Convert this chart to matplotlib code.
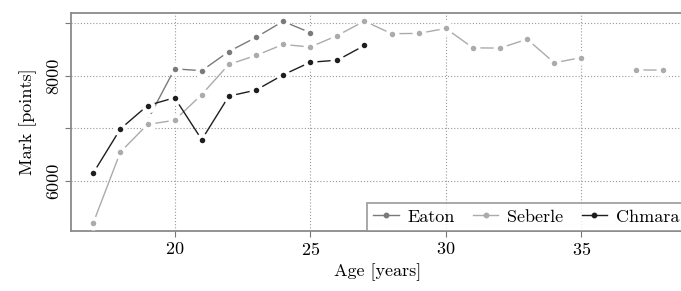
import numpy as np
import matplotlib
matplotlib.use("Agg")
import matplotlib.pyplot as plt

# ages and marks
ages_eaton = [19, 20, 21, 22, 23, 24, 25]
marks_eaton = [7150, 8130, 8095, 8460, 8730, 9035, 8820]

ages_seberle = [17, 18, 19, 20, 21, 22, 23, 24, 25, 26, 27, 28, 29, 30,
                31, 32, 33, 34, 35, 36, 37, 38]
marks_seberle = [5195, 6545, 7070, 7150, 7640, 8215, 8385, 8595, 8545, 8765,
                 9040, 8800, 8805, 8900, 8530, 8525, 8695, 8245, 8345,
                 np.nan, 8110, 8105]

ages_chmara = [17, 18, 19, 20, 21, 22, 23, 24, 25, 26, 27]
marks_chmara = [6145, 6985, 7430, 7580, 6780, 7610, 7725, 8015, 8255, 8295, 8575]

series = [
    ("Eaton", ages_eaton, marks_eaton, "#7a7a7a"),
    ("Seberle", ages_seberle, marks_seberle, "#ababab"),
    ("Chmara", ages_chmara, marks_chmara, "#1e1e1e"),
]

plt.rcParams["font.family"] = "serif"
plt.rcParams["font.serif"] = ["cmr10", "DejaVu Serif"]
plt.rcParams["mathtext.fontset"] = "cm"
plt.rcParams["axes.formatter.use_mathtext"] = True

fig = plt.figure(figsize=(6.81, 2.91), dpi=100)
ax = fig.add_axes([70.5 / 681, 1 - 231 / 291, 615 / 681, 218 / 291])

# R type="b" look: line with a white gap around each point
for name, x, y, col in series:
    ax.plot(x, y, color=col, lw=1.0, marker="o", ms=7.0,
            markerfacecolor=col, markeredgecolor="white", mew=3.0,
            label=name, zorder=3)

ax.set_xlim(16.16, 38.84)
ax.set_ylim(5040, 9194)

ax.set_xticks([20, 25, 30, 35])
ax.set_yticks([6000, 7000, 8000, 9000])
ax.set_yticklabels(["6000", "", "8000", ""], rotation=90, va="center")
ax.tick_params(axis="both", direction="out", length=4, width=0.8,
               color="#777777", labelsize=13, pad=3)

ax.grid(True, color="#999999", linestyle=(0, (1.0, 1.8)), lw=0.8)
ax.set_axisbelow(True)
for sp in ax.spines.values():
    sp.set_color("#8a8a8a")
    sp.set_linewidth(1.3)

ax.set_xlabel("Age [years]", fontsize=13, labelpad=4)
ax.set_ylabel("Mark [points]", fontsize=13, labelpad=6)

# legend entries use small points
handles = []
for name, x, y, col in series:
    h, = ax.plot([], [], color=col, lw=1.0, marker="o", ms=3.2,
                 markerfacecolor=col, markeredgecolor=col, label=name)
    handles.append(h)
leg = ax.legend(handles=handles, loc="lower right", ncol=3, frameon=True,
                fancybox=False, borderaxespad=0, fontsize=13,
                handlelength=1.4, handletextpad=0.5, columnspacing=1.0,
                borderpad=0.35)
leg.get_frame().set_edgecolor("#8a8a8a")
leg.get_frame().set_linewidth(1.3)

fig.savefig("out.png", dpi=100)
